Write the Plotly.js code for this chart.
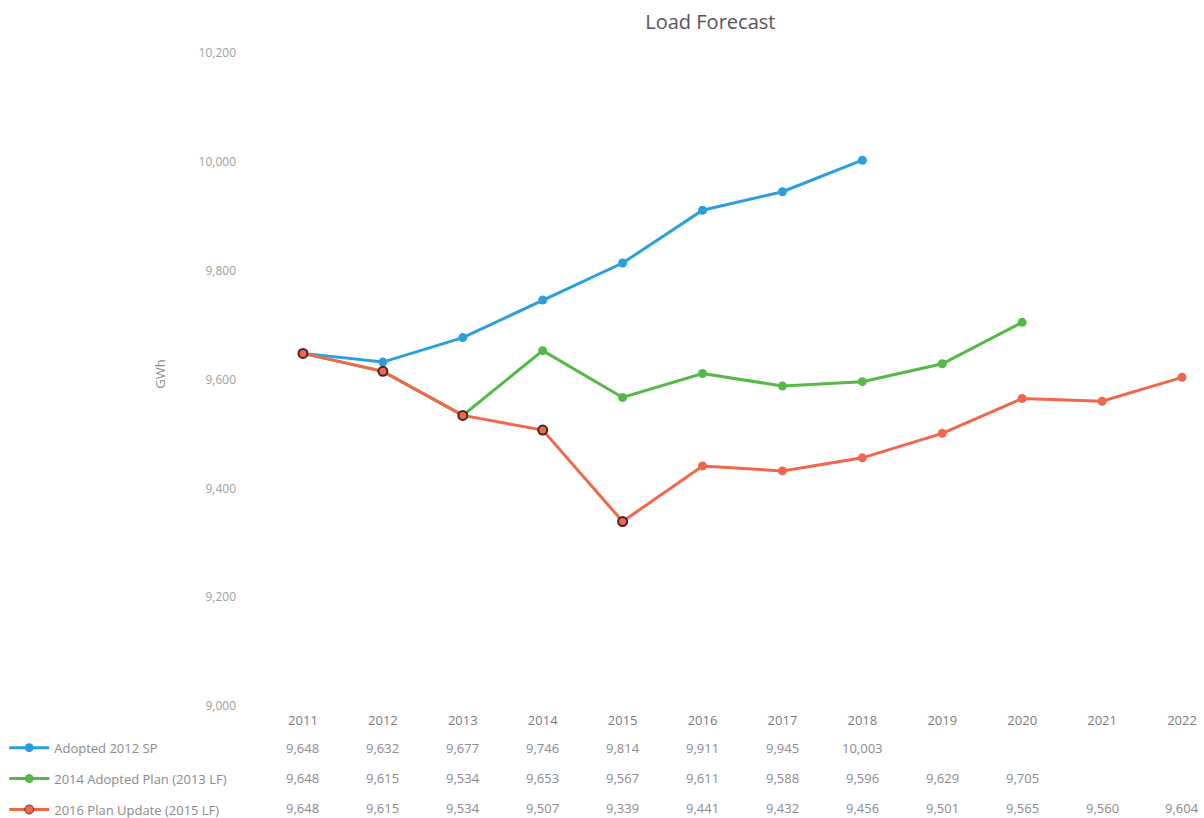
<!DOCTYPE html>
<html>
<head>
<meta charset="utf-8">
<script src="https://cdn.plot.ly/plotly-3.0.1.min.js"></script>
<style>html,body{margin:0;padding:0;background:#fff;}#chart{width:1204px;height:818px;}</style>
</head>
<body>
<div id="chart"></div>
<script>
var years = ["2011","2012","2013","2014","2015","2016","2017","2018","2019","2020","2021","2022"];
var seriesNames = ["Adopted 2012 SP", "2014 Adopted Plan (2013 LF)", "2016 Plan Update (2015 LF)"];
var adopted2012 = [9648, 9632, 9677, 9746, 9814, 9911, 9945, 10003];
var adopted2014 = [9648, 9615, 9534, 9653, 9567, 9611, 9588, 9596, 9629, 9705];
var update2016 = [9648, 9615, 9534, 9507, 9339, 9441, 9432, 9456, 9501, 9565, 9560, 9604];
var yTicks = [9000, 9200, 9400, 9600, 9800, 10000, 10200];

var colors = ["#2a9fdb", "#55b947", "#f2664b"];
var allSeries = [adopted2012, adopted2014, update2016];

var redOutline = update2016.map(function(v, i){ return i < 5 ? "#3a2a28" : colors[2]; });
var redOutlineW = update2016.map(function(v, i){ return i < 5 ? 2 : 0; });

var traces = allSeries.map(function(vals, k){
  return {
    x: years.slice(0, vals.length),
    y: vals,
    name: seriesNames[k],
    type: "scatter",
    mode: "lines+markers",
    line: {color: colors[k], width: 3},
    marker: {color: colors[k], size: 9,
             line: {color: k === 2 ? redOutline : colors[k], width: k === 2 ? redOutlineW : 0}},
    legendgroup: "g" + k,
    hoverinfo: "x+y"
  };
});

var rowY = [-0.0599, -0.1048, -0.1497];
var annotations = [];
allSeries.forEach(function(vals, k){
  vals.forEach(function(v, i){
    annotations.push({
      x: i, xref: "x", y: rowY[k], yref: "paper",
      text: v.toLocaleString("en-US"), showarrow: false,
      xanchor: "center", yanchor: "middle",
      font: {family: "Open Sans, sans-serif", size: 13, color: "#8a8a8a"}
    });
  });
});

var layout = {
  width: 1204, height: 818,
  margin: {l: 263, r: 0, t: 40, b: 110, autoexpand: false},
  paper_bgcolor: "#ffffff", plot_bgcolor: "#ffffff",
  title: {text: "Load Forecast", x: 0.59, xanchor: "center", y: 0.973, yanchor: "middle",
          font: {family: "Open Sans, sans-serif", size: 20, color: "#555555"}},
  xaxis: {type: "category", range: [-0.5, 11.275], showgrid: false, zeroline: false,
          showline: false, ticks: "", automargin: false, ticklabelstandoff: 3,
          tickfont: {family: "Open Sans, sans-serif", size: 13, color: "#7a7a7a"},
          fixedrange: true},
  yaxis: {range: [8996.3, 10223.9], tickvals: yTicks, tickformat: ",", showgrid: false,
          zeroline: false, showline: false, ticks: "", ticklabelstandoff: 26, automargin: false,
          tickfont: {family: "Open Sans, sans-serif", size: 12, color: "#a0a0a0"},
          title: {text: "GWh", standoff: 30, font: {family: "Open Sans, sans-serif", size: 13, color: "#8a8a8a"}},
          fixedrange: true},
  showlegend: true,
  legend: {x: -0.275, xanchor: "left", y: -0.037, yanchor: "top", orientation: "v",
           tracegroupgap: 11, itemwidth: 40, bgcolor: "rgba(0,0,0,0)",
           font: {family: "Open Sans, sans-serif", size: 13, color: "#8a8a8a"}},
  annotations: annotations
};

Plotly.newPlot("chart", traces, layout, {displayModeBar: false, staticPlot: true});
</script>
</body>
</html>
